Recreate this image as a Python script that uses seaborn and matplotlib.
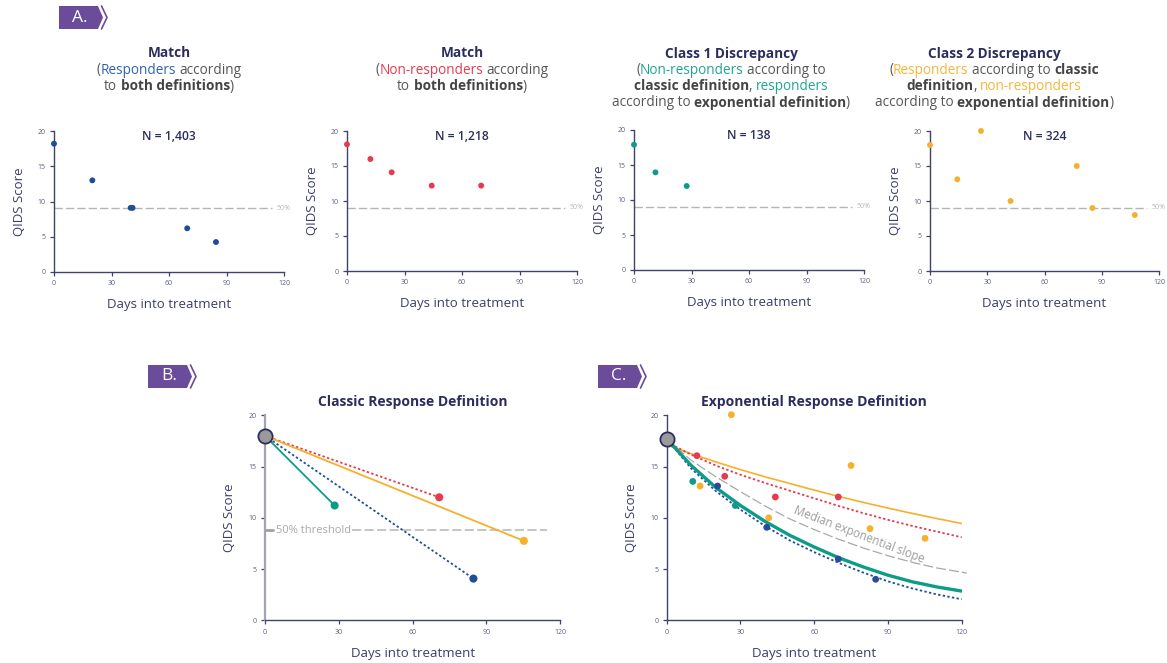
import numpy as np
import pandas as pd
import matplotlib
matplotlib.use("Agg")
import matplotlib.pyplot as plt
from matplotlib.patches import Polygon
from matplotlib.lines import Line2D
import seaborn as sns

# ---------------- data ----------------
A1_days = [0, 20, 40, 41, 69.5, 84.5]
A1_qids = [18.2, 13.0, 9.1, 9.1, 6.2, 4.25]
A2_days = [0, 12.2, 23.3, 44.2, 70]
A2_qids = [18.1, 16.0, 14.1, 12.2, 12.2]
A3_days = [0, 11.2, 27.5]
A3_qids = [17.9, 13.95, 12.0]
A4_days = [0, 14.3, 26.7, 42.2, 76.9, 85.1, 107.3]
A4_qids = [18.0, 13.1, 20.0, 10.0, 15.0, 9.0, 8.0]
A_N = ["N = 1,403", "N = 1,218", "N = 138", "N = 324"]
A_threshold = 9.05

B_start = (0, 18.0)
B_red_days, B_red_qids = [0, 70.8], [18.0, 12.0]
B_blue_days, B_blue_qids = [0, 84.7], [18.0, 4.07]
B_teal_days, B_teal_qids = [0, 28.3], [18.0, 11.2]
B_orange_days, B_orange_qids = [0, 105.2], [18.0, 7.75]
B_threshold = 8.8

C_start = (0, 17.7)
C_curve_days = [0, 10, 20, 30, 40, 50, 60, 70, 80, 90, 100, 110, 120]
C_teal_curve = [17.7, 15.1, 12.95, 11.2, 9.65, 8.3, 7.15, 6.1, 5.2, 4.4, 3.75, 3.25, 2.85]
C_blue_curve = [17.7, 14.8, 12.6, 10.8, 9.2, 7.8, 6.65, 5.6, 4.65, 3.8, 3.1, 2.52, 2.05]
C_orange_curve = [17.1, 16.25, 15.45, 14.7, 14.0, 13.35, 12.7, 12.08, 11.5, 10.95, 10.42, 9.92, 9.45]
C_red_curve = [17.4, 16.15, 15.1, 14.2, 13.4, 12.65, 11.9, 11.15, 10.45, 9.8, 9.2, 8.65, 8.1]
C_median_days = [0, 10, 20, 30, 40, 50, 60, 70, 80, 90, 100, 110, 120, 122]
C_median_curve = [17.7, 15.6, 14.0, 12.55, 11.15, 9.9, 8.85, 7.9, 7.05, 6.3, 5.65, 5.1, 4.7, 4.6]

C_red_days, C_red_qids = [12.3, 23.6, 44.2, 69.8], [16.06, 14.05, 12.03, 12.03]
C_teal_days, C_teal_qids = [10.6, 27.9], [13.55, 11.2]
C_blue_days, C_blue_qids = [20.7, 40.7, 69.8, 85.0], [13.1, 9.07, 5.98, 4.0]
C_orange_days = [13.6, 26.3, 41.5, 75.0, 82.7, 105.1]
C_orange_qids = [13.1, 20.06, 10.0, 15.1, 8.94, 8.0]

X_TICKS = [0, 30, 60, 90, 120]
Y_TICKS = [0, 5, 10, 15, 20]

# ---------------- style ----------------
sns.set_theme(style="white")
FAM = ["Open Sans", "DejaVu Sans"]
plt.rcParams["font.family"] = FAM

NAVY = "#2b2d5e"
AXC = "#3f4170"
TICKC = "#5b5e80"
LABC = "#3a3d6b"
GRAYT = "#555555"
BOLDG = "#444444"
BLUE = "#1f4e96"
BLUE_T = "#2e62b0"
RED = "#e63b4f"
TEAL = "#0e9c88"
TEAL_T = "#1fa591"
ORANGE = "#f6b02c"
ORANGE_T = "#f7b53a"
DASHC = "#b5b5b5"
PURPLE = "#6b4c9a"

W, H = 1167, 663
fig = plt.figure(figsize=(W / 100, H / 100), dpi=100)
fig.patch.set_facecolor("white")


def ax_px(l, t, r, b):
    return fig.add_axes([l / W, 1 - b / H, (r - l) / W, (b - t) / H])


def style(ax, xpad=8, ypad=8.5, left_color=AXC, left_lw=1.0):
    ax.set_xlim(0, 120)
    ax.set_ylim(0, 20)
    ax.set_xticks(X_TICKS)
    ax.set_yticks(Y_TICKS)
    ax.set_xticklabels([str(v) for v in X_TICKS])
    ax.set_yticklabels([str(v) for v in Y_TICKS])
    for s in ["top", "right"]:
        ax.spines[s].set_visible(False)
    ax.spines["bottom"].set_color(AXC)
    ax.spines["bottom"].set_linewidth(1.0)
    ax.spines["left"].set_color(left_color)
    ax.spines["left"].set_linewidth(left_lw)
    ax.tick_params(axis="both", which="major", length=3, width=0.9, color=AXC,
                   labelsize=5, labelcolor=TICKC, pad=3, left=True, bottom=True)
    ax.set_xlabel("Days into treatment", fontsize=9.5, color=LABC, labelpad=xpad)
    ax.set_ylabel("QIDS Score", fontsize=9.5, color=LABC, labelpad=ypad)
    ax.set_facecolor("white")


def rich_line(xc, yc, pieces, size):
    r = fig.canvas.get_renderer()

    def adv(s, weight):
        t = fig.text(0, 0, "|" + s + "|", fontsize=size, fontweight=weight, family=FAM)
        w1 = t.get_window_extent(r).width
        t.set_text("||")
        w0 = t.get_window_extent(r).width
        t.remove()
        return w1 - w0

    widths = [adv(p[0], p[2]) for p in pieces]
    total = sum(widths)
    x = xc - total / 2
    for (txt, col, wt), w in zip(pieces, widths):
        lead = len(txt) - len(txt.lstrip(" "))
        sp = adv(" ", wt) if lead else 0
        fig.text((x + lead * sp) / W, 1 - yc / H, txt.strip(), fontsize=size,
                 fontweight=wt, color=col, family=FAM, ha="left", va="center")
        x += w


def tag(x0, y0, label):
    pts = [(x0, y0), (x0 + 39, y0), (x0 + 44, y0 + 11.5), (x0 + 39, y0 + 23), (x0, y0 + 23)]
    fig.add_artist(Polygon([(x / W, 1 - y / H) for x, y in pts], closed=True,
                           transform=fig.transFigure, facecolor=PURPLE, edgecolor="none"))
    ch = [(x0 + 42.5, y0), (x0 + 48, y0 + 11.5), (x0 + 42.5, y0 + 23)]
    fig.add_artist(Line2D([p[0] / W for p in ch], [1 - p[1] / H for p in ch],
                          transform=fig.transFigure, color=PURPLE, lw=1.2))
    fig.text((x0 + 21) / W, 1 - (y0 + 11.5) / H, label, color="white", fontsize=12.5,
             ha="center", va="center", family=FAM)


# ---------------- panel A ----------------
A_boxes = [(54, 131, 284, 272), (347, 131, 577, 271), (634, 130, 864, 270), (930, 131, 1159, 271)]
A_data = [(A1_days, A1_qids, BLUE), (A2_days, A2_qids, RED),
          (A3_days, A3_qids, TEAL), (A4_days, A4_qids, ORANGE)]

for box, (dx, dy, col), ntxt in zip(A_boxes, A_data, A_N):
    ax = ax_px(*box)
    ax.plot([0, 113.5], [A_threshold, A_threshold], color=DASHC, lw=1.0,
            linestyle=(0, (6, 2.2)), zorder=1)
    ax.text(116.3, A_threshold, "50%", fontsize=5, color="#b8b8b8", va="center",
            ha="left", clip_on=False)
    sns.scatterplot(x=dx, y=dy, ax=ax, color=col, s=18, edgecolor="none",
                    clip_on=False, zorder=3, legend=False)
    ax.text(0.5, 0.958, ntxt, transform=ax.transAxes, fontsize=8.7, fontweight="semibold",
            color=NAVY, ha="center", va="center")
    style(ax)

# titles of panel A
TS = 9.8
rich_line(169, 53, [("Match", NAVY, "bold")], TS)
rich_line(169, 70, [("(", GRAYT, "normal"), ("Responders", BLUE_T, "normal"),
                    (" according", GRAYT, "normal")], TS)
rich_line(169, 86.5, [("to ", GRAYT, "normal"), ("both definitions", BOLDG, "bold"),
                      (")", GRAYT, "normal")], TS)

rich_line(462, 53, [("Match", NAVY, "bold")], TS)
rich_line(462, 70, [("(", GRAYT, "normal"), ("Non-responders", RED, "normal"),
                    (" according", GRAYT, "normal")], TS)
rich_line(462, 86.5, [("to ", GRAYT, "normal"), ("both definitions", BOLDG, "bold"),
                      (")", GRAYT, "normal")], TS)

rich_line(731, 54, [("Class 1 Discrepancy", NAVY, "bold")], TS)
rich_line(731, 70, [("(", GRAYT, "normal"), ("Non-responders", TEAL_T, "normal"),
                    (" according to", GRAYT, "normal")], TS)
rich_line(731, 86.5, [("classic definition", BOLDG, "bold"), (", ", GRAYT, "normal"),
                      ("responders", TEAL_T, "normal")], TS)
rich_line(731, 102.5, [("according to ", GRAYT, "normal"),
                       ("exponential definition", BOLDG, "bold"), (")", GRAYT, "normal")], TS)

rich_line(994, 54, [("Class 2 Discrepancy", NAVY, "bold")], TS)
rich_line(994, 70, [("(", GRAYT, "normal"), ("Responders", ORANGE_T, "normal"),
                    (" according to ", GRAYT, "normal"), ("classic", BOLDG, "bold")], TS)
rich_line(994, 86.5, [("definition", BOLDG, "bold"), (", ", GRAYT, "normal"),
                      ("non-responders", ORANGE_T, "normal")], TS)
rich_line(994, 102.5, [("according to ", GRAYT, "normal"),
                       ("exponential definition", BOLDG, "bold"), (")", GRAYT, "normal")], TS)

# ---------------- panel B ----------------
axB = ax_px(265, 415.3, 560.3, 620.3)
axB.plot([0.6, 3.4], [B_threshold, B_threshold], color="#a0a0a0", lw=2.0, zorder=1)
axB.text(4.3, B_threshold, "50% threshold", fontsize=8, color="#a8a8a8", va="center", ha="left")
axB.plot([35.5, 114.7], [B_threshold, B_threshold], color=DASHC, lw=1.1,
         linestyle=(0, (6, 2.2)), zorder=1)
dot = (0, (1.3, 1.3))
sns.lineplot(x=B_red_days, y=B_red_qids, ax=axB, color=RED, lw=1.3, linestyle=dot, zorder=2)
sns.lineplot(x=B_blue_days, y=B_blue_qids, ax=axB, color=BLUE, lw=1.3, linestyle=dot, zorder=2)
sns.lineplot(x=B_orange_days, y=B_orange_qids, ax=axB, color=ORANGE, lw=1.3, zorder=2)
sns.lineplot(x=B_teal_days, y=B_teal_qids, ax=axB, color=TEAL, lw=1.3, zorder=2)
for dx, dy, col in [(B_red_days, B_red_qids, RED), (B_blue_days, B_blue_qids, BLUE),
                    (B_orange_days, B_orange_qids, ORANGE), (B_teal_days, B_teal_qids, TEAL)]:
    sns.scatterplot(x=dx[1:], y=dy[1:], ax=axB, color=col, s=34, edgecolor="none",
                    zorder=4, legend=False)
sns.scatterplot(x=[B_start[0]], y=[B_start[1]], ax=axB, color="#9a9a9c", s=105,
                edgecolor=NAVY, linewidth=1.3, zorder=5, clip_on=False, legend=False)
style(axB, xpad=8.5, ypad=9, left_color="#a3a3b8", left_lw=1.6)
fig.text(412.7 / W, 1 - 402 / H, "Classic Response Definition", fontsize=10,
         fontweight="bold", color=NAVY, ha="center", va="center")

# ---------------- panel C ----------------
axC = ax_px(666.7, 415.3, 961.7, 620.3)
sns.lineplot(x=C_median_days, y=C_median_curve, ax=axC, color="#a8a8a8", lw=0.9,
             linestyle=(0, (8, 2.5)), zorder=2, clip_on=False)
sns.lineplot(x=C_curve_days, y=C_orange_curve, ax=axC, color=ORANGE, lw=1.2, zorder=2)
sns.lineplot(x=C_curve_days, y=C_red_curve, ax=axC, color=RED, lw=1.3,
             linestyle=(0, (1.3, 1.3)), zorder=2)
sns.lineplot(x=C_curve_days, y=C_blue_curve, ax=axC, color=BLUE, lw=1.3,
             linestyle=(0, (1.3, 1.3)), zorder=2)
sns.lineplot(x=C_curve_days, y=C_teal_curve, ax=axC, color=TEAL, lw=2.4, zorder=3)
for dx, dy, col in [(C_red_days, C_red_qids, RED), (C_teal_days, C_teal_qids, TEAL),
                    (C_blue_days, C_blue_qids, "#2a4b9b"), (C_orange_days, C_orange_qids, ORANGE)]:
    sns.scatterplot(x=dx, y=dy, ax=axC, color=col, s=24, edgecolor="none", zorder=4,
                    clip_on=False, legend=False)
sns.scatterplot(x=[C_start[0]], y=[C_start[1]], ax=axC, color="#9a9a9c", s=105,
                edgecolor=NAVY, linewidth=1.3, zorder=5, clip_on=False, legend=False)
axC.text(78.2, 8.3, "Median exponential slope", fontsize=8.3, color="#9c9c9c",
         rotation=-21, rotation_mode="anchor", ha="center", va="center")
style(axC, xpad=8.5, ypad=9)
fig.text(814.2 / W, 1 - 402.5 / H, "Exponential Response Definition", fontsize=10,
         fontweight="bold", color=NAVY, ha="center", va="center")

# ---------------- tags ----------------
tag(59, 6, "A.")
tag(148, 365, "B.")
tag(598, 365, "C.")

fig.savefig("out.png", dpi=100, facecolor="white")
